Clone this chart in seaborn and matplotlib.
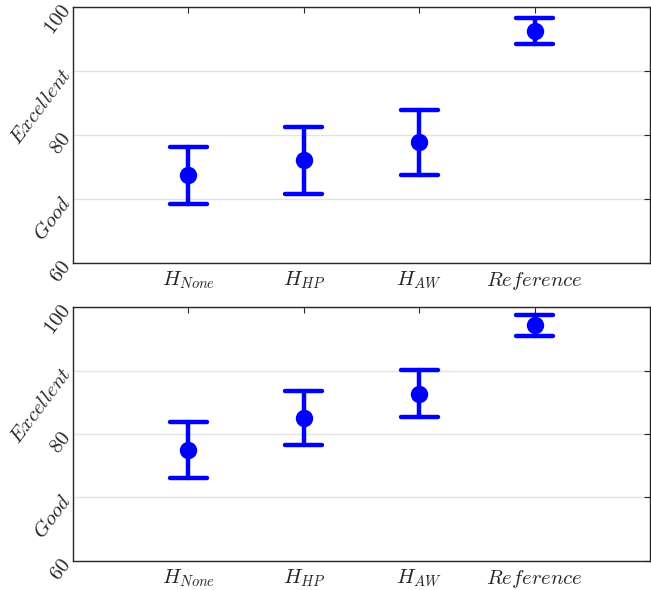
import numpy as np
import pandas as pd
import matplotlib
matplotlib.use("Agg")
import matplotlib.pyplot as plt
import seaborn as sns

sns.set_style("white")
plt.rcParams["mathtext.fontset"] = "cm"
plt.rcParams["font.family"] = ["DejaVu Serif"]

categories = [r"$H_{None}$", r"$H_{HP}$", r"$H_{AW}$", r"$Reference$"]
# top panel: mean, lower, upper
top_mean = [73.7, 76.1, 78.9, 96.2]
top_low = [69.2, 70.8, 73.7, 94.2]
top_high = [78.2, 81.3, 83.9, 98.3]
# bottom panel
bot_mean = [77.5, 82.5, 86.3, 97.2]
bot_low = [73.1, 78.3, 82.7, 95.4]
bot_high = [81.9, 86.8, 90.1, 98.7]

ytick_vals = [60, 70, 80, 90, 100]
ytick_labels = [r"$60$", r"$Good$", r"$80$", r"$Excellent$", r"$100$"]

blue = "#0000ff"
dark = "#262626"

fig = plt.figure(figsize=(6.51, 5.90), dpi=100)
ax_top = fig.add_axes([73 / 651, (590 - 263) / 590, 577 / 651, 256 / 590])
ax_bot = fig.add_axes([73 / 651, (590 - 561) / 590, 577 / 651, 254 / 590])


def panel(ax, mean, low, high):
    rows = []
    for c, m, l, h in zip(categories, mean, low, high):
        for v in (l, m, h):
            rows.append({"cat": c, "score": v})
    df = pd.DataFrame(rows)
    sns.pointplot(data=df, x="cat", y="score", order=categories,
                  estimator="median", errorbar=("pi", 100),
                  linestyle="none", color=blue, capsize=0.32,
                  markersize=10.5, err_kws={"linewidth": 3.2}, ax=ax)
    ax.set_xlim(-1, 4)
    ax.set_ylim(60, 100)
    ax.set_yticks(ytick_vals)
    ax.set_yticklabels(ytick_labels, rotation=53, fontsize=15, color=dark,
                       va="center", ha="right", rotation_mode="anchor")
    ax.set_xticks(range(len(categories)))
    ax.set_xticklabels(categories, fontsize=15, color=dark)
    ax.set_xlabel("")
    ax.set_ylabel("")
    ax.yaxis.grid(True, color="#e3e3e3", linewidth=1)
    ax.xaxis.grid(False)
    ax.set_axisbelow(True)
    ax.tick_params(direction="in", top=True, right=True, length=4,
                   width=0.8, color=dark)
    ax.tick_params(axis="x", pad=5)
    ax.tick_params(axis="y", pad=4)
    for s in ax.spines.values():
        s.set_visible(True)
        s.set_color(dark)
        s.set_linewidth(1)


panel(ax_top, top_mean, top_low, top_high)
panel(ax_bot, bot_mean, bot_low, bot_high)

fig.savefig("out.png", dpi=100)
